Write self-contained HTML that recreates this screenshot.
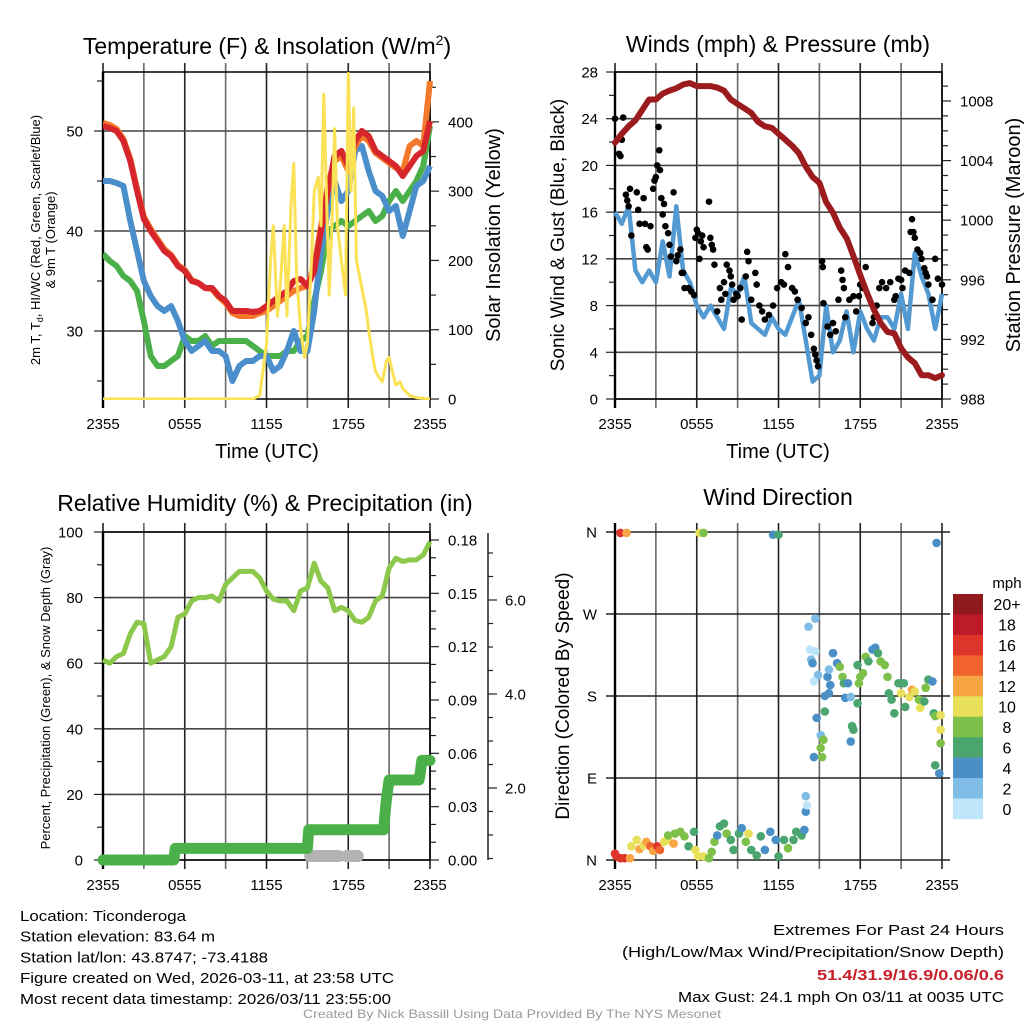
<!DOCTYPE html>
<html><head><meta charset="utf-8"><style>
body{margin:0;background:#fff;}
svg{display:block;font-family:"Liberation Sans",sans-serif;}
</style></head><body>
<svg id="c" width="1024" height="1024" viewBox="0 0 1024 1024" xmlns="http://www.w3.org/2000/svg"></svg>
<script>
// ---------- data ----------
const hrs=[0,0.5,1,1.5,2,2.5,3,3.5,4,4.5,5,5.5,6,6.5,7,7.5,8,8.5,9,9.5,10,10.5,11,11.5,12,12.5,13,13.5,14,14.5,15,15.5,16,16.5,17,17.5,18,18.5,19,19.5,20,20.5,21,21.5,22,22.5,23,23.5,24];
const tempRed=[50.5,50.3,50,49,47,44,41.2,40,39,38,37.5,36.5,36,35,34.8,34.3,34.3,33.5,33,32,32,32,31.9,32,32.5,33,33.5,34,35,35.2,34.5,36,40,44,47.5,48,46.5,49,50,49.5,48,47.5,47,46.5,45.5,46.5,47.5,48,51];
const tempOrange=[50.8,50.6,50.2,49.2,47.2,44.2,41.4,40.2,39.2,38.2,37.6,36.6,36.1,35.1,34.8,34.3,34.2,33.4,32.8,31.8,31.5,31.5,31.5,31.8,32,32.5,33,33.5,34,34.3,34.5,36.5,40.5,44.5,47,47.5,46,48.5,49.5,49,47.8,47.3,46.8,46.3,46,48.5,49,48.5,55];
const tempBlue=[45,45,44.8,44.5,41,38,35,33.5,32.5,32,32.5,31,29,28,28.5,29,28,28,27.5,25,26.5,27,27,27.5,27.5,26,26.5,28,30,28,28,32,38,42,45,43,44,48,48.5,46,44,43.5,42,42.5,39.5,42,44.5,45,46.5];
const tempGreen=[37.7,37,36.5,35.5,35,34,31,27.5,26.5,26.5,27,27.5,29.5,29,29,29.5,28.5,29,29,29,29,29,28.5,28,27.5,27.5,27.5,28,28,29,29.5,33,36,40,40.5,41,40.5,41,41.5,42,41,41.5,43,44,43,44,45,46.5,50.5];
const solarHrs=[0,11,11.5,12,12.3,12.5,12.8,13,13.3,13.5,13.8,14,14.2,14.5,14.8,15,15.3,15.5,15.8,16,16.2,16.4,16.6,16.8,17,17.2,17.5,17.8,18,18.2,18.4,18.6,18.8,19,19.3,19.5,19.8,20,20.3,20.5,20.8,21,21.3,21.5,21.8,22,22.5,23,24];
const solar=[0,0,5,80,200,250,120,160,250,120,280,340,180,100,60,80,200,300,320,250,440,300,150,250,390,250,200,150,470,300,420,200,180,160,130,100,60,40,30,25,55,60,35,20,25,15,5,2,0];
const pressure=[1005.2,1005.8,1006.3,1006.7,1007.4,1008.1,1008.1,1008.5,1008.7,1008.85,1009.1,1009.2,1009,1009,1009,1008.9,1008.7,1008.1,1007.8,1007.5,1007.2,1006.6,1006.3,1006.2,1005.8,1005.4,1005,1004.5,1003.6,1002.9,1002.5,1001.2,1000.5,999.5,998.8,997.6,996.3,995.1,994,993.1,992.5,992.4,991.4,990.8,990.4,989.6,989.6,989.4,989.6];
const windSpd=[16,15,16.5,11,10,11,10,13.5,10.5,16.5,11,10,8,7,8,7,6,9.5,9,10.5,6.5,6,5.5,7,6,5.5,7,8.5,5,1.5,2,8,4,5,7.5,4,7.5,6,5,7,7,6,9,6,12.5,10.5,9,6,9];
const gustHrs=[0,0.3,0.4,0.5,0.6,0.8,0.9,1,1.1,1.2,1.6,1.7,1.8,2.1,2.2,2.3,2.4,2.6,2.8,2.9,3,3.1,3.2,3.25,3.3,3.4,3.5,3.6,3.7,3.9,4,4.1,4.3,4.5,4.6,4.8,4.9,5,5.1,5.4,5.6,5.8,5.9,6,6.1,6.2,6.3,6.4,6.5,6.9,7,7.1,7.2,7.3,7.5,7.7,7.8,8,8.1,8.2,8.4,8.5,8.6,8.7,8.9,9,9.2,9.3,9.6,9.7,9.8,10,10.3,10.4,10.6,10.8,11,11.3,11.6,11.9,12.2,12.4,12.5,12.7,13,13.2,13.4,13.7,14,14.2,14.4,14.6,14.7,14.8,14.9,15.2,15.25,15.3,15.6,15.8,16,16.2,16.4,16.6,16.7,16.8,16.9,17.2,17.5,17.7,17.9,18,18.2,18.4,18.9,19,19.2,19.4,19.6,19.9,20.2,20.5,20.6,20.8,21,21.1,21.3,21.6,21.7,21.8,21.9,22,22.2,22.4,22.5,22.7,22.8,22.9,23,23.3,23.5,23.7,24];
const gustVal=[24,21,20.8,22.2,24.1,17.5,17,16.5,18,14,17.7,16.2,15,17.2,15,13,12.8,14.8,18,18.7,19,20,23.3,21.3,19.6,17.2,15.8,16.7,14.8,14.2,13.2,12.2,17.7,11.8,12.3,12.8,10.8,10.8,9.5,9.5,9.2,8.9,13.8,14.5,14.2,12,13.5,14,13,16.9,13.8,13.2,12.8,11.5,7.5,9.5,8.5,10,9,11.5,11,10.5,9.8,8.5,9,8.8,9.5,6.8,10.5,12.6,11.8,8.5,10.8,9.8,8,7.5,6.8,7.2,8,9.5,10,9.8,12.4,11.3,9.5,9.2,8.5,7.8,6.5,7,5.5,4.3,3.8,3.3,2.8,11.8,11.3,8.2,6.2,5.5,6.5,5.8,8.5,11,10.2,9.5,7,8.5,8.8,7.5,8.8,9.8,9.5,11.3,6.5,7,8,9.5,10,9.5,10,8.5,8.8,10.3,10.2,9.5,11,10.8,14.3,15.4,14.3,13.8,12.8,12.5,12,11.2,10.8,10.5,9.8,8.5,12,10.3,9.8,8.2,11.6];
const rh=[61,60,62,63,69,72.5,72,60,61,62,65,74,75,79,80,80,80.5,79,84,86,88,88,88,86,82,79.5,79,79,76,82,83,90.5,85,83,76,77,76,73,72.5,74,79,80.5,89,92,91,91.5,91.5,93,97];
const precipHrs=[0,5.2,5.3,15.0,15.1,20.6,20.7,20.8,20.9,21.0,23.2,23.3,23.4,24];
const precip=[0,0,0.0065,0.0065,0.017,0.017,0.026,0.034,0.04,0.045,0.045,0.05,0.056,0.056];
const snowStart=[15.2,17.9];
const snowEnd=[17.3,18.7];
const dirHrs=[0,0.1,0.4,0.7,0.4,0.85,1.1,1.2,1.6,1.8,2.1,2.3,2.6,2.8,3.1,3.3,3.6,3.9,4.3,3.9,4.4,4.8,5.1,5.4,5.8,5.9,6.1,6.5,6.9,6.2,6.5,7.1,7.3,7.5,7.7,8,8.2,8.5,8.7,9.1,9.3,9.6,9.8,10,10.4,10.7,11,11.4,11.8,11.6,12,12,12.4,12.7,13.1,13.3,13.7,13.9,14,14.1,14,14.2,14.7,14.3,14.7,14.4,14.5,14.9,14.6,14.8,15.1,15.3,15.1,15.2,14.6,15.4,15.4,15.7,15.6,15.8,15.7,16,16.3,16.5,16.7,16.8,16.9,17.1,17.3,17.4,17.5,17.3,17.8,17.9,18,18.2,17.8,18.4,18.6,18.9,19.1,19.3,19.5,19.8,20,20.1,20.3,20.5,20.8,21.2,21,21.3,21.6,21.8,22,22.3,22.4,22.7,22.8,23,23.3,23.4,23.5,23.9,23.9,23.9,23.5,23.8,23.6];
const dirDeg=[7,4,2,2,359,359,2,15,22,12,16,20,15,10,15,11,20,22,18,27,29,31,26,15,31,11,4,4,2,359,359,9,20,27,37,40,29,22,11,29,35,20,29,11,5,26,11,31,22,357,357,4,22,13,22,31,27,33,53,60,70,256,265,231,229,220,216,203,196,156,137,132,123,113,113,163,180,183,201,192,209,227,216,212,201,194,178,194,179,147,143,130,172,194,201,205,214,223,218,231,233,227,218,214,201,183,176,161,194,194,183,168,179,187,185,176,167,174,189,198,196,161,158,159,143,128,104,95,348];
const dirSpd=[17,17,16,16,17,12,13,10,10,12,10,12,14,12,16,14,11,10,12,8,8,8,8,7,6,10,10,10,8,10,8,8,8,5,6,6,8,6,6,6,5,8,10,6,6,7,4,4,4,4,6,6,7,8,6,6,6,4,4,1,3,3,3,1,1,3,4,3,1,4,3,8,8,8,4,6,4,4,4,4,3,4,4,8,8,6,4,4,3,6,6,4,6,8,8,8,6,8,6,4,4,6,8,8,8,6,6,6,6,6,10,6,10,12,10,8,10,6,8,6,4,6,8,10,10,8,6,4,4];
const cbLabels=["20+","18","16","14","12","10","8","6","4","2","0"];
const cbColors=["#8f1a1d","#bd1c26","#de352b","#f0632d","#f7a545","#e8e05a","#7dc14a","#4aa66e","#4a8fc6","#80bde6","#bde6fa"];
const timeLabels=["2355","0555","1155","1755","2355"];

// ---------- helpers ----------
const NS="http://www.w3.org/2000/svg";
const svg=document.getElementById('c');
function el(tag,attrs,parent){const e=document.createElementNS(NS,tag);for(const k in attrs)e.setAttribute(k,attrs[k]);(parent||svg).appendChild(e);return e;}
function txt(s,x,y,size,anchor,parent,extra){const t=el('text',Object.assign({x:x,y:y,'font-size':size,'text-anchor':anchor||'middle',fill:'#000'},extra||{}),parent);t.textContent=s;return t;}
function lin(d0,d1,p0,p1){return v=>p0+(v-d0)*(p1-p0)/(d1-d0);}
function poly(xs,ys,fx,fy){return xs.map((v,i)=>fx(v).toFixed(1)+','+fy(ys[i]).toFixed(1)).join(' ');}
function speedColor(s){let i=Math.floor(s/2);if(i>10)i=10;return cbColors[10-i];}

function timeAxis(g,x0,x1,yTop,yBot,gridTop){
  const fx=lin(0,24,x0,x1);
  for(let h=0;h<=24;h+=3){
    const l=el('line',{x1:fx(h),x2:fx(h),y1:gridTop,y2:yBot+9,stroke:(h%6==0)?'#222':'#666','stroke-width':1.6},g);
    
    
  }
  timeLabels.forEach((s,i)=>{const t=txt(s,fx(i*6),429+(yBot-399),15,'middle',g);
    });
  return fx;
}
function yAxis(g,x,fy,min,max,minorStep,majorStep,fmt,side,labelOffset,gridX0,gridX1,grid){
  for(let v=min;v<=max+1e-9;v+=minorStep){
    const major=Math.abs(Math.round(v/majorStep)*majorStep-v)<1e-9;
    const len=major?9:6;
    el('line',{x1:x,x2:side<0?x-len:x+len,y1:fy(v),y2:fy(v),stroke:'#222','stroke-width':1.2},g);
    if(major){
      const t=txt(fmt(v),side<0?x-labelOffset:x+labelOffset,fy(v)+5.5,15,side<0?'end':'start',g);
      
      if(grid){el('line',{x1:gridX0,x2:gridX1,y1:fy(v),y2:fy(v),stroke:'#444','stroke-width':1.6},g);}
    }
  }
}
function vtitle(s,x,y,size,g){const t=txt(s,x,y,size,'middle',g,{transform:'rotate(-90 '+x+' '+y+')'});return t;}

// ---------- panel 1: temperature ----------
(function(){
  const g=el('g',{});
  
  const X0=103,X1=430,YT=72,YB=399;
  const fy=lin(23.2,55.9,YB,YT), fs=lin(0,472,YB,YT);
  const fx=timeAxis(g,X0,X1,YT,YB,63);
  yAxis(g,X0,fy,25,55,5,10,v=>v.toFixed(0),-1,20,X0,X1,true);
  yAxis(g,X1,fs,0,450,50,100,v=>v.toFixed(0),1,18,0,0,false);
  el('rect',{x:X0,y:YT,width:X1-X0,height:YB-YT,fill:'none',stroke:'#000','stroke-width':1.5},g);
  el('line',{x1:X0,x2:X0,y1:YT,y2:YB+9,stroke:'#000','stroke-width':2.4},g);
  const cp=el('clipPath',{id:'cp1'},g);el('rect',{x:X0,y:YT-3,width:X1-X0+4,height:YB-YT+4},cp);
  const lg=el('g',{'clip-path':'url(#cp1)'},g);
  [[tempGreen,'#4bb04a','dewpoint-line'],[tempBlue,'#4a8fcb','heat-index-wind-chill-line'],[tempOrange,'#f4792b','9m-temperature-line'],[tempRed,'#d7262b','2m-temperature-line']].forEach(s=>{
    const p=el('polyline',{points:poly(hrs,s[0],fx,fy),fill:'none',stroke:s[1],'stroke-width':6,'stroke-linejoin':'round'},lg);
    
  });
  const ps=el('polyline',{points:poly(solarHrs,solar,fx,fs),fill:'none',stroke:'#fbe155','stroke-width':3,'stroke-linejoin':'round'},lg);
  
  const t=el('text',{x:267,y:54,'font-size':23,'text-anchor':'middle'},g);
  t.innerHTML='Temperature (F) &amp; Insolation (W/m<tspan dy="-9" font-size="14">2</tspan><tspan dy="9">)</tspan>';
  
  const xt=txt('Time (UTC)',267,458,20,'middle',g);
  const y1=el('text',{x:40,y:240,'font-size':13,'text-anchor':'middle',transform:'rotate(-90 40 240)'},g);
  y1.innerHTML='2m T, T<tspan dy="3" font-size="9">d</tspan><tspan dy="-3">, HI/WC (Red, Green, Scarlet/Blue)</tspan>';
  
  const y2=vtitle('& 9m T (Orange)',55,240,13,g);
  const y3=vtitle('Solar Insolation (Yellow)',500,235,20,g);
})();

// ---------- panel 2: winds ----------
(function(){
  const g=el('g',{});
  
  const X0=615,X1=942,YT=72,YB=399;
  const fy=lin(0,28,YB,YT), fp=lin(988,1008,YB,101);
  const fx=timeAxis(g,X0,X1,YT,YB,63);
  yAxis(g,X0,fy,0,28,2,4,v=>v.toFixed(0),-1,17,X0,X1,true);
  yAxis(g,X1,fp,988,1009.9,1,4,v=>v.toFixed(0),1,18,0,0,false);
  el('rect',{x:X0,y:YT,width:X1-X0,height:YB-YT,fill:'none',stroke:'#000','stroke-width':1.5},g);
  el('line',{x1:X0,x2:X0,y1:YT,y2:YB+9,stroke:'#000','stroke-width':2.4},g);
  const pw=el('polyline',{points:poly(hrs,windSpd,fx,fy),fill:'none',stroke:'#5399d2','stroke-width':4.5,'stroke-linejoin':'round'},g);
  
  gustHrs.forEach((h,i)=>{const c=el('circle',{cx:fx(h),cy:fy(gustVal[i]),r:3.3,fill:'#000'},g);
    });
  const pp=el('polyline',{points:poly(hrs,pressure,fx,fp),fill:'none',stroke:'#9b1b1f','stroke-width':6,'stroke-linejoin':'round','stroke-linecap':'round'},g);
  
  const t=txt('Winds (mph) & Pressure (mb)',778,52,23,'middle',g);
  const xt=txt('Time (UTC)',778,458,20,'middle',g);
  const y1=vtitle('Sonic Wind & Gust (Blue, Black)',564,235,19,g);
  const y2=vtitle('Station Pressure (Maroon)',1020,235,20,g);
})();

// ---------- panel 3: RH & precip ----------
(function(){
  const g=el('g',{});
  
  const X0=103,X1=430,YT=532,YB=860;
  const fy=lin(0,100,YB,YT), fpr=lin(0,0.18,YB,540), fsn=lin(0,2,882,788);
  const fx=timeAxis(g,X0,X1,YT,YB,523);
  yAxis(g,X0,fy,0,100,10,20,v=>v.toFixed(0),-1,20,X0,X1,true);
  yAxis(g,X1,fpr,0,0.18,0.01,0.03,v=>v.toFixed(2),1,18,0,0,false);
  el('rect',{x:X0,y:YT,width:X1-X0,height:YB-YT,fill:'none',stroke:'#000','stroke-width':1.5},g);
  el('line',{x1:X0,x2:X0,y1:YT,y2:YB+9,stroke:'#000','stroke-width':2.4},g);
  el('line',{x1:488,x2:488,y1:533,y2:860,stroke:'#222','stroke-width':1.5},g);
  for(let v=0.5;v<=7;v+=0.5){const y=fsn(v);if(y<533||y>860)continue;
    const major=Math.abs(v-Math.round(v/2)*2)<1e-9;
    el('line',{x1:488,x2:major?497:493,y1:y,y2:y,stroke:'#222','stroke-width':1.2},g);
    if(major){const t=txt(v.toFixed(1),505,y+5.5,15,'start',g);}
  }
  const pr=el('polyline',{points:poly(hrs,rh,fx,fy),fill:'none',stroke:'#8cc84b','stroke-width':5,'stroke-linejoin':'round'},g);
  
  snowStart.forEach((s,i)=>{const l=el('line',{x1:fx(s),x2:fx(snowEnd[i]),y1:YB-4,y2:YB-4,stroke:'#b3b3b3','stroke-width':12,'stroke-linecap':'round'},g);
    });
  const pp=el('polyline',{points:poly(precipHrs,precip,fx,fpr),fill:'none',stroke:'#4bb04a','stroke-width':11,'stroke-linejoin':'round','stroke-linecap':'round'},g);
  
  const t=txt('Relative Humidity (%) & Precipitation (in)',265,511,23,'middle',g);
  const y1=vtitle('Percent, Precipitation (Green), & Snow Depth (Gray)',50,698,13,g);
})();

// ---------- panel 4: wind direction ----------
(function(){
  const g=el('g',{});
  
  const X0=615,X1=942,YT=532,YB=860;
  const fy=lin(0,360,YB,YT);
  const fx=timeAxis(g,X0,X1,YT,YB,523);
  const dl=['N','E','S','W','N'];
  dl.forEach((s,i)=>{const y=fy(i*90);
    el('line',{x1:X0-9,x2:X1+8,y1:y,y2:y,stroke:'#222','stroke-width':1.6},g);
    const t=txt(s,597,y+5.5,15,'end',g);});
  el('line',{x1:X0,x2:X0,y1:YT-9,y2:YB+9,stroke:'#000','stroke-width':2.4},g);
  dirHrs.forEach((h,i)=>{const c=el('circle',{cx:fx(h),cy:fy(dirDeg[i]),r:4.3,fill:speedColor(dirSpd[i])},g);
    });
  const t=txt('Wind Direction',778,505,23,'middle',g);
  const y1=vtitle('Direction (Colored By Speed)',569,696,19,g);
  const cb=el('g',{},g);
  const bh=(819-594)/cbLabels.length;
  cbLabels.forEach((s,i)=>{el('rect',{x:953,y:594+i*bh,width:30,height:bh+0.3,fill:cbColors[i]},cb);
    const tt=txt(s,1007,594+i*bh+bh/2+6,16,'middle',cb);});
  const m=txt('mph',1007,588,15,'middle',cb);
})();

// ---------- footer ----------
(function(){
  const g=el('g',{});
  
  const left=['Location: Ticonderoga','Station elevation: 83.64 m','Station lat/lon: 43.8747; -73.4188','Figure created on Wed, 2026-03-11, at 23:58 UTC','Most recent data timestamp: 2026/03/11 23:55:00'];
  const lw=[166,195,248,374,371];
  left.forEach((s,i)=>{const t=txt(s,20,921+i*20.7,15,'start',g,{textLength:lw[i],lengthAdjust:'spacingAndGlyphs'});});
  const r1=txt('Extremes For Past 24 Hours',1004,935,15,'end',g,{textLength:231,lengthAdjust:'spacingAndGlyphs'});
  const r2=txt('(High/Low/Max Wind/Precipitation/Snow Depth)',1004,957,15,'end',g,{textLength:382,lengthAdjust:'spacingAndGlyphs'});
  const r3=txt('51.4/31.9/16.9/0.06/0.6',1004,980,15,'end',g,{fill:'#c8202a','font-weight':'bold',textLength:187,lengthAdjust:'spacingAndGlyphs'});
  const r4=txt('Max Gust: 24.1 mph On 03/11 at 0035 UTC',1004,1002,15,'end',g,{textLength:326,lengthAdjust:'spacingAndGlyphs'});
  const c=txt('Created By Nick Bassill Using Data Provided By The NYS Mesonet',512,1018,12,'middle',g,{fill:'#999',textLength:418,lengthAdjust:'spacingAndGlyphs'});
})();
</script>
</body></html>
